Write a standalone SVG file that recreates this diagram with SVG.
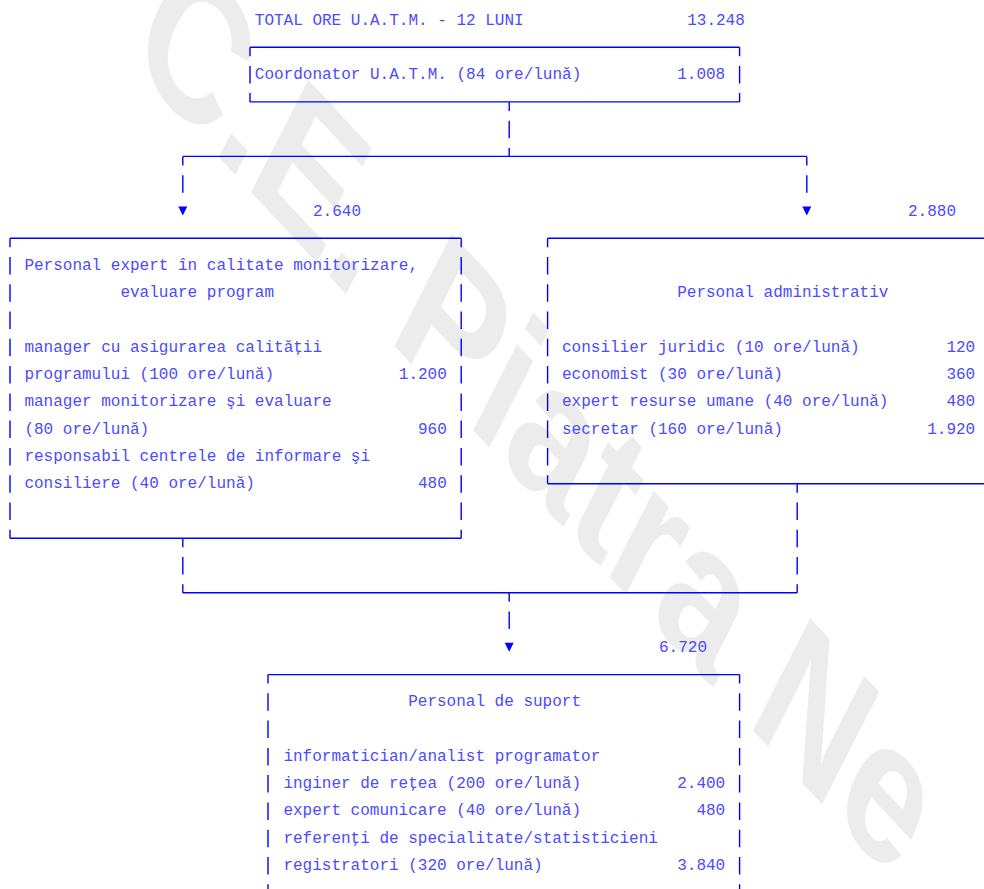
<svg xmlns="http://www.w3.org/2000/svg" width="984" height="889" viewBox="0 0 984 889">
<style>
.t{font-family:"Liberation Mono","Courier New",monospace;font-size:16px;fill:#4b4bff}
.e{text-anchor:end}
.ln{stroke:#0000ff;stroke-width:1.4;fill:none}
.ar{fill:#0000ff}
.wm{font-family:"Liberation Sans",Arial,sans-serif;font-weight:bold;font-size:172px;fill:#ececec}
</style>
<rect width="984" height="889" fill="#ffffff"/>
<g id="watermark">
<text class="wm" transform="translate(126,58) rotate(47) skewX(20)">C.E. Piatra Ne</text>
</g>
<g id="title">
<text class="t" x="254.8" y="24.6">TOTAL ORE U.A.T.M. - 12 LUNI</text>
<text class="t e" x="744.8" y="24.6">13.248</text>
</g>
<g id="box-coordonator">
<path class="ln" d="M250 47.3H739.6M250 47.3V56.3M739.6 47.3V56.3M250 66.1V83.6M739.6 66.1V83.6M250 101.9H739.6M250 92.9V101.9M739.6 92.9V101.9"/>
<text class="t" x="254.8" y="79.1">Coordonator U.A.T.M. (84 ore/lună)</text>
<text class="t e" x="725.2" y="79.1">1.008</text>
</g>
<g id="box-expert">
<path class="ln" d="M10 238.2H461.2M10 238.2V247.2M461.2 238.2V247.2M10 538.2H461.2M10 529.7V538.2M461.2 529.7V538.2
M10 257V274.5M10 284.3V301.8M10 311.5V329M10 338.8V356.3M10 366.1V383.6M10 393.4V410.9M10 420.6V438.1M10 447.9V465.4M10 475.2V492.7M10 502.4V519.9
M461.2 257V274.5M461.2 284.3V301.8M461.2 311.5V329M461.2 338.8V356.3M461.2 366.1V383.6M461.2 393.4V410.9M461.2 420.6V438.1M461.2 447.9V465.4M461.2 475.2V492.7M461.2 502.4V519.9"/>
<text class="t" x="24.4" y="270">Personal expert în calitate monitorizare,</text>
<text class="t" x="120.4" y="297.3">evaluare program</text>
<text class="t" x="24.4" y="351.8">manager cu asigurarea calităţii</text>
<text class="t" x="24.4" y="379.1">programului (100 ore/lună)</text>
<text class="t e" x="446.8" y="379.1">1.200</text>
<text class="t" x="24.4" y="406.4">manager monitorizare şi evaluare</text>
<text class="t" x="24.4" y="433.6">(80 ore/lună)</text>
<text class="t e" x="446.8" y="433.6">960</text>
<text class="t" x="24.4" y="460.9">responsabil centrele de informare şi</text>
<text class="t" x="24.4" y="488.2">consiliere (40 ore/lună)</text>
<text class="t e" x="446.8" y="488.2">480</text>
</g>
<g id="box-administrativ">
<path class="ln" d="M547.6 238.2H984M547.6 238.2V247.2M547.6 483.7H984M547.6 475.2V483.7
M547.6 257V274.5M547.6 284.3V301.8M547.6 311.5V329M547.6 338.8V356.3M547.6 366.1V383.6M547.6 393.4V410.9M547.6 420.6V438.1M547.6 447.9V465.4"/>
<text class="t" x="677.2" y="297.3">Personal administrativ</text>
<text class="t" x="562" y="351.8">consilier juridic (10 ore/lună)</text>
<text class="t e" x="975.2" y="351.8">120</text>
<text class="t" x="562" y="379.1">economist (30 ore/lună)</text>
<text class="t e" x="975.2" y="379.1">360</text>
<text class="t" x="562" y="406.4">expert resurse umane (40 ore/lună)</text>
<text class="t e" x="975.2" y="406.4">480</text>
<text class="t" x="562" y="433.6">secretar (160 ore/lună)</text>
<text class="t e" x="975.2" y="433.6">1.920</text>
</g>
<g id="box-suport">
<path class="ln" d="M268 674.6H739.6M268 674.6V683.6M739.6 674.6V683.6
M268 693.3V710.8M268 720.6V738.1M268 747.9V765.4M268 775.1V792.6M268 802.4V819.9M268 829.7V847.2M268 856.9V874.4M268 884.2V901.7
M739.6 693.3V710.8M739.6 720.6V738.1M739.6 747.9V765.4M739.6 775.1V792.6M739.6 802.4V819.9M739.6 829.7V847.2M739.6 856.9V874.4M739.6 884.2V901.7"/>
<text class="t" x="408.2" y="706.3">Personal de suport</text>
<text class="t" x="283.4" y="760.9">informatician/analist programator</text>
<text class="t" x="283.4" y="788.1">inginer de reţea (200 ore/lună)</text>
<text class="t e" x="725.2" y="788.1">2.400</text>
<text class="t" x="283.4" y="815.4">expert comunicare (40 ore/lună)</text>
<text class="t e" x="725.2" y="815.4">480</text>
<text class="t" x="283.4" y="842.7">referenţi de specialitate/statisticieni</text>
<text class="t" x="283.4" y="869.9">registratori (320 ore/lună)</text>
<text class="t e" x="725.2" y="869.9">3.840</text>
</g>
<g id="connectors">
<path class="ln" d="M509.2 101.9V110.9M509.2 120.7V138.2M509.2 147.9V156.4M182.8 156.4H806.8M182.8 156.4V165.4M806.8 156.4V165.4M182.8 175.2V192.7M806.8 175.2V192.7"/>
<polygon class="ar" points="178.3,206.5 187.3,206.5 182.8,215.5"/>
<polygon class="ar" points="802.3,206.5 811.3,206.5 806.8,215.5"/>
<text class="t e" x="361" y="215.5">2.640</text>
<text class="t e" x="956" y="215.5">2.880</text>
<path class="ln" d="M182.8 538.2V547.2M182.8 557V574.5M182.8 584.2V592.7M797.2 483.7V492.7M797.2 502.4V519.9M797.2 529.7V547.2M797.2 557V574.5M797.2 584.2V592.7M182.8 592.7H797.2M509.2 592.7V601.7M509.2 611.5V629"/>
<polygon class="ar" points="504.7,642.8 513.7,642.8 509.2,651.8"/>
<text class="t e" x="707" y="651.8">6.720</text>
</g>
</svg>
